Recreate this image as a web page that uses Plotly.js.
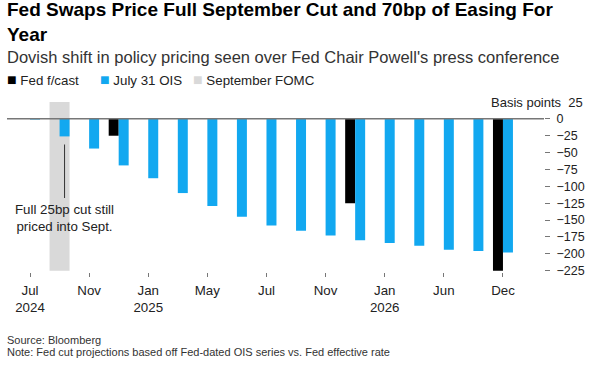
<!DOCTYPE html>
<html>
<head>
<meta charset="utf-8">
<script src="https://cdn.plot.ly/plotly-3.0.1.min.js"></script>
<style>html,body{margin:0;padding:0;background:#fff;}#chart{width:600px;height:366px;}</style>
</head>
<body>
<div id="chart"></div>
<script>
// ---- data ----
const meetings = ['Jul 2024','Sep 2024','Nov 2024','Dec 2024','Jan 2025','Mar 2025','May 2025','Jun 2025','Jul 2025','Sep 2025','Nov 2025','Dec 2025','Jan 2026','Mar 2026','Jun 2026','Sep 2026','Dec 2026'];
const oisValues = [-1, -26, -44, -69, -88, -110, -129, -145, -158, -166, -173, -180, -184, -188, -194, -196, -198];
const fedMeetings = ['Dec 2024','Dec 2025','Dec 2026'];
const fedValues = [-25, -125, -225];
const fomcMeeting = ['Sep 2024'];
const fomcTop = [25];
const fomcBottom = [-225];
const tickMeetings = ['Jul 2024','Nov 2024','Jan 2025','May 2025','Jul 2025','Nov 2025','Jan 2026','Jun 2026','Dec 2026'];
const tickLabels = ['Jul<br>2024','Nov','Jan<br>2025','May','Jul','Nov','Jan<br>2026','Jun','Dec'];
const yTicks = [0, -25, -50, -75, -100, -125, -150, -175, -200, -225];

const BLUE = '#12a8f0', BLACK = '#000000', GRAY = '#d9d9d9';
const FONT = 'Liberation Sans, Arial, sans-serif';

// layout geometry (pixels)
const W = 600, H = 366, L = 7, R = 56, T = 102, B = 94;
const pw = W - L - R, ph = H - T - B;
const px = x => (x - L) / pw;
const py = y => (H - B - y) / ph;

const barW = 0.338;

const traces = [
  {type:'bar', name:'September FOMC', x: fomcMeeting, y: fomcTop.map((t,i)=>t - fomcBottom[i]), base: fomcBottom,
   offset: -barW, width: 2*barW, marker:{color:GRAY}, hoverinfo:'skip'},
  {type:'bar', name:'Fed f/cast', x: fedMeetings, y: fedValues, offset: -barW, width: barW, marker:{color:BLACK}},
  {type:'bar', name:'July 31 OIS', x: meetings, y: oisValues, offset: 0, width: barW, marker:{color:BLUE}}
];

const legendItems = [
  {color: BLACK, text: 'Fed f/cast', x: 7},
  {color: BLUE, text: 'July 31 OIS', x: 100},
  {color: GRAY, text: 'September FOMC', x: 193}
];

const annotations = [
  {xref:'paper', yref:'paper', x: px(5), y: py(-3), xanchor:'left', yanchor:'top', align:'left', showarrow:false,
   text:'<b>Fed Swaps Price Full September Cut and 70bp of Easing For<br>Year</b>', font:{family:FONT, size:19, color:'#000'}},
  {xref:'paper', yref:'paper', x: px(5), y: py(57), xanchor:'left', yanchor:'middle', showarrow:false,
   text:"Dovish shift in policy pricing seen over Fed Chair Powell's press conference", font:{family:FONT, size:16.5, color:'#333'}},
  {xref:'paper', yref:'y', x: 1, xshift: 41, y: 25, xanchor:'right', yanchor:'middle', showarrow:false,
   text:'Basis points  25', font:{family:FONT, size:13, color:'#222'}},
  {xref:'x', yref:'y', x: 1 + barW/2, y: -38, ax: 0, ay: 73, showarrow:true, arrowhead:0, arrowwidth:1, arrowcolor:'#333',
   text:'Full 25bp cut still<br>priced into Sept.', font:{family:FONT, size:13.3, color:'#222'}, borderpad:3},
  {xref:'paper', yref:'paper', x: px(5), y: py(340), xanchor:'left', yanchor:'middle', showarrow:false,
   text:'Source: Bloomberg', font:{family:FONT, size:11, color:'#333'}},
  {xref:'paper', yref:'paper', x: px(5), y: py(352), xanchor:'left', yanchor:'middle', showarrow:false,
   text:'Note: Fed cut projections based off Fed-dated OIS series vs. Fed effective rate', font:{family:FONT, size:11, color:'#333'}}
];
legendItems.forEach(it => annotations.push({
  xref:'paper', yref:'paper', x: px(it.x - 2), y: py(79), xanchor:'left', yanchor:'middle', showarrow:false,
  text: '<span style="color:' + it.color + ';font-size:16px">■</span> ' + it.text,
  font:{family:FONT, size:13.3, color:'#222'}
}));

const layout = {
  width: W, height: H,
  margin: {l:L, r:R, t:T, b:B, pad:0},
  paper_bgcolor:'#fff', plot_bgcolor:'#fff',
  barmode:'overlay',
  showlegend:false,
  xaxis: {type:'category', categoryorder:'array', categoryarray: meetings, range:[-0.778, -0.778 + pw/29.56],
          tickmode:'array', tickvals: tickMeetings, ticktext: tickLabels, ticks:'outside', ticklen:4, tickcolor:'#777', tickwidth:1,
          ticklabelstandoff:2,
          showgrid:false, zeroline:false, showline:false, tickfont:{family:FONT, size:13.3, color:'#222'}, fixedrange:true},
  yaxis: {side:'right', range:[-227, 25], tickmode:'array', tickvals: yTicks, ticks:'outside', ticklen:5, tickcolor:'#777', tickwidth:1,
          showgrid:false, zeroline:false, showline:false, tickfont:{family:FONT, size:12.5, color:'#222'}, ticklabelstandoff:4, fixedrange:true},
  shapes: [{type:'line', xref:'paper', yref:'y', x0:0, x1:1, y0:0, y1:0, line:{color:'#777', width:1.5}, layer:'above'}],
  annotations: annotations
};

Plotly.newPlot('chart', traces, layout, {displayModeBar:false, staticPlot:true});
</script>
</body>
</html>
